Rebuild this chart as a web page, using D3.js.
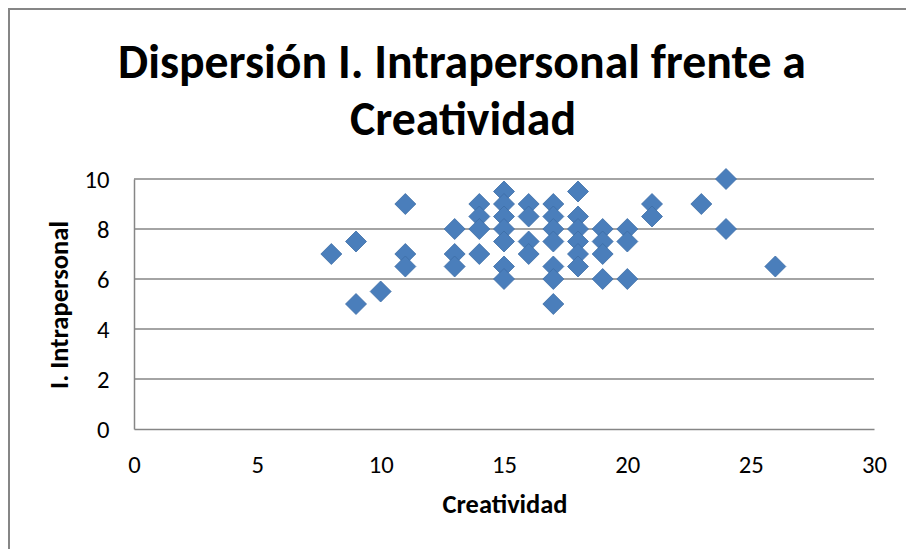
<!DOCTYPE html>
<html><head><meta charset="utf-8">
<script src="https://cdn.jsdelivr.net/npm/d3@7"></script>
<style>html,body{margin:0;padding:0;background:#fff;}svg{display:block;}</style>
</head><body>
<svg id="c" width="906" height="549"></svg>
<script>
const titleLines = ["Dispersión I. Intrapersonal frente a", "Creatividad"];
const xTitle = "Creatividad";
const yTitle = "I. Intrapersonal";
const xTicks = [0, 5, 10, 15, 20, 25, 30];
const yTicks = [0, 2, 4, 6, 8, 10];
const creatividad = [8, 9, 9, 10, 11, 11, 11, 13, 13, 13, 14, 14, 14, 14,
  15, 15, 15, 15, 15, 15, 15, 16, 16, 16, 16, 17, 17, 17, 17, 17, 17, 17,
  18, 18, 18, 18, 18, 18, 19, 19, 19, 19, 20, 20, 20, 21, 21, 23, 24, 24, 26];
const intrapersonal = [7, 7.5, 5, 5.5, 9, 7, 6.5, 8, 7, 6.5, 9, 8.5, 8, 7,
  9.5, 9, 8.5, 8, 7.5, 6.5, 6, 9, 8.5, 7.5, 7, 9, 8.5, 8, 7.5, 6.5, 6, 5,
  9.5, 8.5, 8, 7.5, 7, 6.5, 8, 7.5, 7, 6, 8, 7.5, 6, 9, 8.5, 9, 10, 8, 6.5];

const svg = d3.select("#c");
const FONT = "Carlito, Lato, 'Open Sans', sans-serif";

// outer border
svg.append("rect").attr("x", 9).attr("y", 9).attr("width", 920).attr("height", 560)
  .attr("fill", "#fff").attr("stroke", "#868686").attr("stroke-width", 2);

const x = d3.scaleLinear().domain([0, 30]).range([134, 874]);
const y = d3.scaleLinear().domain([0, 10]).range([429, 179]);

function fitText(sel, target) {
  const fs = parseFloat(sel.attr("font-size"));
  const w = sel.node().getComputedTextLength();
  if (w > 0) sel.attr("font-size", fs * target / w);
}

// title
const t1 = svg.append("text").attr("x", 462).attr("y", 78).attr("text-anchor", "middle")
  .attr("font-family", FONT).attr("font-weight", "bold").attr("font-size", 40).attr("fill", "#000")
  .text(titleLines[0]);
fitText(t1, 688);
const t2 = svg.append("text").attr("x", 463).attr("y", 135).attr("text-anchor", "middle")
  .attr("font-family", FONT).attr("font-weight", "bold").attr("font-size", 40).attr("fill", "#000")
  .text(titleLines[1]);
t2.attr("font-size", t1.attr("font-size"));

// gridlines
svg.append("g").selectAll("line").data(yTicks.filter(d => d > 0)).join("line")
  .attr("x1", x(0)).attr("x2", x(30)).attr("y1", d => y(d)).attr("y2", d => y(d))
  .attr("stroke", "#868686").attr("stroke-width", 1.5);

// tick font size: fit "10" to ~25px wide
const probe = svg.append("text").attr("font-family", FONT).attr("font-size", 25).text("10");
fitText(probe, 25);
const TICKFS = parseFloat(probe.attr("font-size"));
probe.remove();

// axes
const yAxis = svg.append("g").attr("transform", `translate(${x(0)},0)`)
  .call(d3.axisLeft(y).tickValues(yTicks).tickSize(0).tickPadding(24.5).tickFormat(d3.format("d")));
const xAxis = svg.append("g").attr("transform", `translate(0,${y(0)})`)
  .call(d3.axisBottom(x).tickValues(xTicks).tickSize(0).tickPadding(0).tickFormat(d3.format("d")));
[yAxis, xAxis].forEach(a => {
  a.attr("font-size", null).attr("font-family", null);
  a.select(".domain").attr("stroke", "#868686").attr("stroke-width", 1.5);
  a.selectAll("text").attr("font-family", FONT).attr("font-size", TICKFS).attr("fill", "#000");
});
yAxis.selectAll("text").attr("dy", "0.35em");
xAxis.selectAll("text").attr("y", 43.5).attr("dy", null);

// axis titles
const xt = svg.append("text").attr("x", 505).attr("y", 513).attr("text-anchor", "middle")
  .attr("font-family", FONT).attr("font-weight", "bold").attr("font-size", 20).attr("fill", "#000")
  .text(xTitle);
fitText(xt, 125);
const yt = svg.append("text").attr("transform", "translate(68,305) rotate(-90)").attr("text-anchor", "middle")
  .attr("font-family", FONT).attr("font-weight", "bold").attr("font-size", 20).attr("fill", "#000")
  .text(yTitle);
fitText(yt, 168);

// points
const pts = creatividad.map((c, i) => ({ c, v: intrapersonal[i] }));
svg.append("g").selectAll("path").data(pts).join("path")
  .attr("transform", d => `translate(${x(d.c)},${y(d.v)})`)
  .attr("d", "M0,-10.5L10.5,0L0,10.5L-10.5,0Z")
  .attr("fill", "#4a7ebb").attr("stroke", "#3e6da6").attr("stroke-width", 0.8);
</script>
</body></html>
